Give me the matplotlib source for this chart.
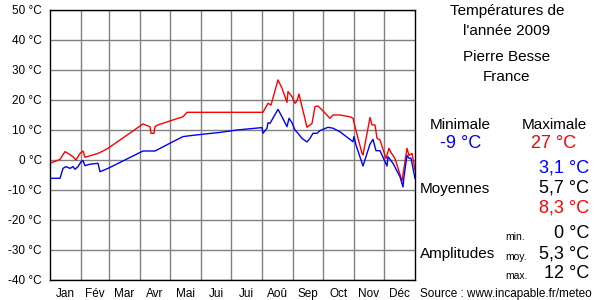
import numpy as np
import matplotlib
matplotlib.use("Agg")
import matplotlib.pyplot as plt

plt.rcParams['font.family'] = ['Liberation Sans', 'DejaVu Sans']

# day of year (0 = 1 Jan) and temperatures
max_days = [0, 10, 15, 18, 23, 26, 30, 33, 35, 40, 48, 53, 58, 93, 100, 101, 104, 105, 108,
            118, 128, 133, 137, 213, 218, 221, 228, 232, 237, 238, 242, 245, 247, 249,
            252, 257, 262, 265, 268, 272, 280, 283, 290, 300, 303, 305, 312, 313, 318,
            320, 322, 325, 327, 330, 336, 339, 341, 345, 352, 357, 359, 362, 365]
max_temps = [-1.1, 0.2, 2.8, 2.2, 1.1, 0.0, 2.2, 3.0, 0.9, 1.4, 2.2, 3.0, 3.9, 12.0, 11.1, 8.9,
             8.9, 11.1, 11.7, 12.8, 13.9, 14.4, 15.9, 15.9, 18.9, 18.3, 26.7, 23.9, 19.2,
             22.8, 21.1, 18.9, 19.7, 22.0, 17.8, 10.9, 12.2, 17.8, 18.0, 16.7, 13.9, 15.0,
             15.0, 14.4, 13.9, 11.1, 2.2, 1.7, 10.6, 14.2, 11.7, 11.7, 7.2, 6.7, 0.5, 3.9,
             2.5, 0.5, -7.0, 3.9, 1.5, 2.2, -3.3]

min_days = [0, 10, 13, 16, 20, 23, 25, 28, 31, 33, 35, 40, 48, 50, 58, 93, 105, 120, 133,
            140, 153, 170, 187, 212, 213, 217, 218, 220, 228, 232, 237, 239, 242, 245, 248,
            252, 257, 260, 263, 267, 270, 278, 283, 290, 303, 304, 306, 313, 320, 323, 326,
            330, 337, 338, 343, 350, 353, 354, 357, 359, 361, 365]
min_temps = [-6.1, -6.1, -2.8, -2.2, -2.8, -2.2, -3.1, -2.2, -0.6, -0.2, -1.9, -1.4, -1.1,
             -3.9, -2.8, 3.0, 3.0, 5.6, 7.8, 8.1, 8.6, 9.2, 10.0, 10.8, 8.9, 10.6, 12.4,
             12.2, 16.9, 14.4, 11.1, 13.9, 12.4, 10.0, 8.9, 7.2, 6.0, 7.2, 8.9, 8.9, 9.8,
             10.9, 10.6, 9.4, 6.1, 7.8, 5.0, -2.0, 5.3, 6.9, 3.1, 3.1, -2.0, 1.1, -1.1,
             -5.6, -9.0, -5.6, 1.5, 0.6, 0.6, -6.1]

month_starts = [0, 31, 59, 90, 120, 151, 181, 212, 243, 273, 304, 334, 365]
month_labels = ['Jan', 'Fév', 'Mar', 'Avr', 'Mai', 'Jui', 'Jui', 'Aoû', 'Sep', 'Oct', 'Nov', 'Déc']
temp_ticks = [50, 40, 30, 20, 10, 0, -10, -20, -30, -40]

W, H = 600, 300
fig = plt.figure(figsize=(6, 3), dpi=100)
ax = fig.add_axes([50 / W, 1 - 280 / H, 365 / W, 270 / H])

ax.plot(max_days, max_temps, color='red', lw=1)
ax.plot(min_days, min_temps, color='blue', lw=1)

ax.set_xlim(0, 365)
ax.set_ylim(-40, 50)
ax.set_xticks(month_starts[1:-1])
ax.set_xticklabels([])
mids = [(a + b) / 2 for a, b in zip(month_starts[:-1], month_starts[1:])]
ax.set_xticks(mids, minor=True)
ax.set_xticklabels(month_labels, minor=True, fontsize=8.5)
ax.set_yticks(temp_ticks)
ax.set_yticklabels([f'{t} °C' for t in temp_ticks], fontsize=8.5)
ax.tick_params(which='both', length=0, pad=6)
ax.grid(True, which='major', color='#808080', lw=1)
ax.set_axisbelow(True)
for s in ax.spines.values():
    s.set_color('black')
    s.set_linewidth(1)


def txt(x, y, s, **kw):
    kw.setdefault('ha', 'center')
    kw.setdefault('va', 'center')
    fig.text(x / W, 1 - y / H, s, **kw)


txt(507, 11, 'Températures de', fontsize=11)
txt(507, 31, "l'année 2009", fontsize=11)
txt(507, 57, 'Pierre Besse', fontsize=11)
txt(507, 77, 'France', fontsize=11)
txt(460, 125, 'Minimale', fontsize=11)
txt(554, 125, 'Maximale', fontsize=11)
txt(461, 144, '-9 °C', fontsize=13, color='blue')
txt(554, 144, '27 °C', fontsize=13, color='red')

txt(589, 168, '3,1 °C', fontsize=13, color='blue', ha='right')
txt(589, 188, '5,7 °C', fontsize=13, ha='right')
txt(589, 208, '8,3 °C', fontsize=13, color='red', ha='right')
txt(420, 189, 'Moyennes', fontsize=11, ha='left')

txt(589, 233, '0 °C', fontsize=13, ha='right')
txt(589, 254, '5,3 °C', fontsize=13, ha='right')
txt(589, 273, '12 °C', fontsize=13, ha='right')
txt(505, 237, 'min.', fontsize=7.5, ha='left')
txt(505, 257, 'moy.', fontsize=7.5, ha='left')
txt(505, 276, 'max.', fontsize=7.5, ha='left')
txt(420, 254, 'Amplitudes', fontsize=11, ha='left')
txt(420, 294, 'Source : www.incapable.fr/meteo', fontsize=8.5, ha='left')

fig.savefig('out.png', dpi=100)
